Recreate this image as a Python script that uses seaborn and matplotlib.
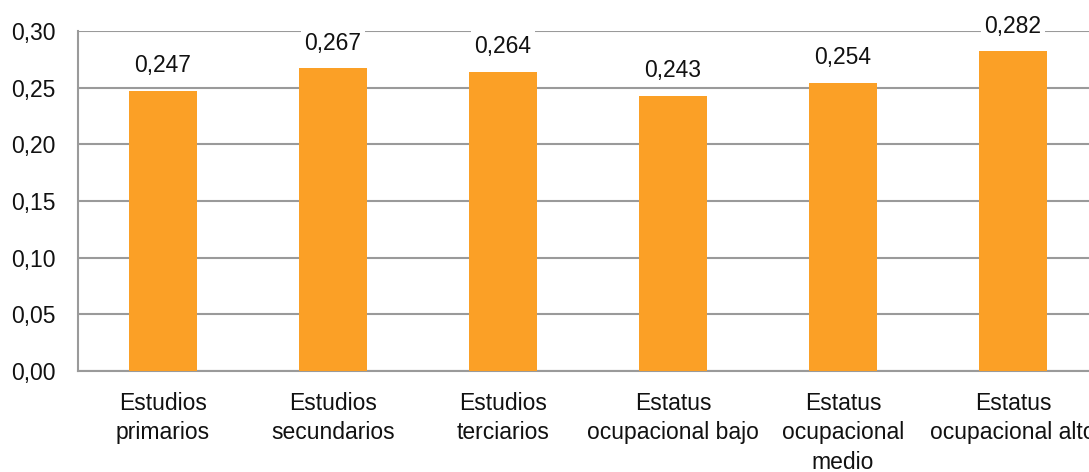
import matplotlib
matplotlib.use("Agg")
import matplotlib.pyplot as plt
import seaborn as sns
import pandas as pd
import numpy as np

categories = ["Estudios\nprimarios", "Estudios\nsecundarios", "Estudios\nterciarios",
              "Estatus\nocupacional bajo", "Estatus\nocupacional\nmedio", "Estatus\nocupacional alto"]
values = [0.247, 0.267, 0.264, 0.243, 0.254, 0.282]
value_labels = ["0,247", "0,267", "0,264", "0,243", "0,254", "0,282"]
yticks = [0.00, 0.05, 0.10, 0.15, 0.20, 0.25, 0.30]
ytick_labels = ["0,00", "0,05", "0,10", "0,15", "0,20", "0,25", "0,30"]

sns.set_style("white")
plt.rcParams['font.family'] = ['Liberation Sans', 'DejaVu Sans']

df = pd.DataFrame({"cat": categories, "val": values})

fig = plt.figure(figsize=(10.89, 4.72), dpi=100)
ax = fig.add_axes([78/1089, 1 - 371/472, 1020/1089, 340/472])

grid_c = "#9a9a9a"
sns.barplot(data=df, x="cat", y="val", color="#FBA026", width=0.4, saturation=1,
            ax=ax, zorder=3, edgecolor="none")

ax.set_ylim(0, 0.30)
ax.set_xlim(-0.5, 5.5)
ax.set_yticks(yticks)
ax.set_yticklabels(ytick_labels, fontsize=16.5)
ax.yaxis.grid(True, color=grid_c, linewidth=1.5, zorder=0)
ax.set_axisbelow(True)
ax.set_xlabel("")
ax.set_ylabel("")

ax.set_xticks(range(len(categories)))
ax.set_xticklabels(categories, fontsize=16.5, linespacing=1.36)
ax.set_xticks(np.arange(-0.5, 6.0, 1.0), minor=True)
ax.tick_params(axis="x", which="major", length=0, pad=15)
ax.tick_params(axis="x", which="minor", length=8, width=1.5, color=grid_c, direction="out")
ax.tick_params(axis="y", which="major", length=8, width=1.5, color=grid_c, direction="out", pad=8)
ax.tick_params(axis="both", labelcolor="#111111")

for s in ["top", "right"]:
    ax.spines[s].set_visible(False)
for s in ["left", "bottom"]:
    ax.spines[s].set_color(grid_c)
    ax.spines[s].set_linewidth(1.5)

for i, (v, lab) in enumerate(zip(values, value_labels)):
    ax.annotate(lab, (i, v), xytext=(0, 10), textcoords="offset points",
                ha="center", va="bottom", fontsize=16.5, color="#111111",
                bbox=dict(boxstyle="square,pad=0.15", fc="white", ec="none"), zorder=4)

fig.savefig("out.png", dpi=100)
